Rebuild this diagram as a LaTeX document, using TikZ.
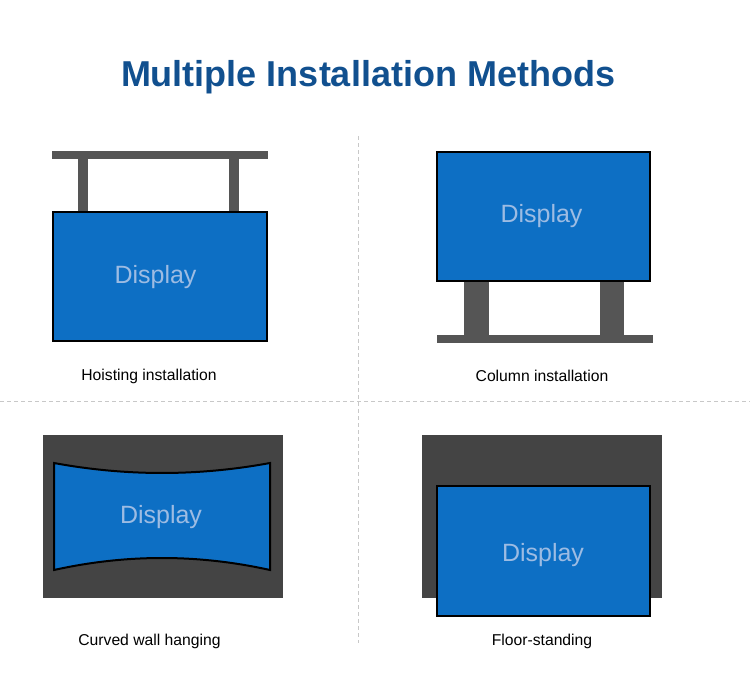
\documentclass[tikz,border=0pt]{standalone}
\usepackage{fontspec}
\setmainfont{Liberation Sans}
\definecolor{dispblue}{HTML}{0D6FC4}
\definecolor{disptext}{HTML}{9DBCE3}
\definecolor{titleblue}{HTML}{11508F}
\definecolor{postgray}{HTML}{555555}
\definecolor{backgray}{HTML}{444444}
\definecolor{dashgray}{HTML}{C8C8C8}
\begin{document}
\begin{tikzpicture}[x=1pt,y=-1pt,
  display/.style={draw=black,line width=2pt,fill=dispblue,inner sep=0pt},
  disptxt/.style={text=disptext,font=\fontsize{25}{29}\selectfont},
  backbox/.style={fill=backgray,draw=none,inner sep=0pt,anchor=north west},
  post/.style={fill=postgray,draw=none},
  caption/.style={font=\fontsize{15.7}{18}\selectfont,text=black},
  divider/.style={draw=dashgray,line width=1pt,dash pattern=on 4pt off 3pt}]
\useasboundingbox (0,0) rectangle (750,693);

% title
\node[font=\fontsize{36}{42}\selectfont\bfseries,text=titleblue] (title) at (368,77) {Multiple Installation Methods};

% dividers
\coordinate (vtop) at (358.5,136);
\coordinate (vbot) at (358.5,643);
\coordinate (hl) at (0,401);
\coordinate (hr) at (750,401);
\draw[divider] (vtop) -- (vbot);
\draw[divider] (hl) -- (hr);

% hoisting
\fill[post] (52,151) rectangle (268,159);
\fill[post] (78,159) rectangle (88,212);
\fill[post] (229,159) rectangle (239,212);
\node[display,minimum width=214pt,minimum height=129pt] (d1) at (160,276.5) {};
\node[disptxt] (t1) at (155.5,277) {Display};
\node[caption] (c1) at (149,376) {Hoisting installation};

% column
\fill[post] (464,281) rectangle (489,336);
\fill[post] (600,281) rectangle (624,336);
\fill[post] (437,335) rectangle (653,343);
\node[display,minimum width=213pt,minimum height=129pt] (d2) at (543.5,216.5) {};
\node[disptxt] (t2) at (541.5,216) {Display};
\node[caption] (c2) at (542,376) {Column installation};

% curved wall
\node[backbox,minimum width=240pt,minimum height=163pt] (b3) at (43,435) {};
\draw[draw=black,line width=2pt,fill=dispblue]
  (54,463) .. controls (126,476.3) and (198,476.3) .. (270,463) -- (270,570)
  .. controls (198,554) and (126,554) .. (54,570) -- cycle;
\node[disptxt] (d3) at (161,517) {Display};
\node[caption] (c3) at (149.5,641) {Curved wall hanging};

% floor standing
\node[backbox,minimum width=240pt,minimum height=163pt] (b4) at (422,435) {};
\node[display,minimum width=213pt,minimum height=130pt] (d4) at (543.5,551) {};
\node[disptxt] (t4) at (543,555) {Display};
\node[caption] (c4) at (542,641) {Floor-standing};
\end{tikzpicture}
\end{document}
